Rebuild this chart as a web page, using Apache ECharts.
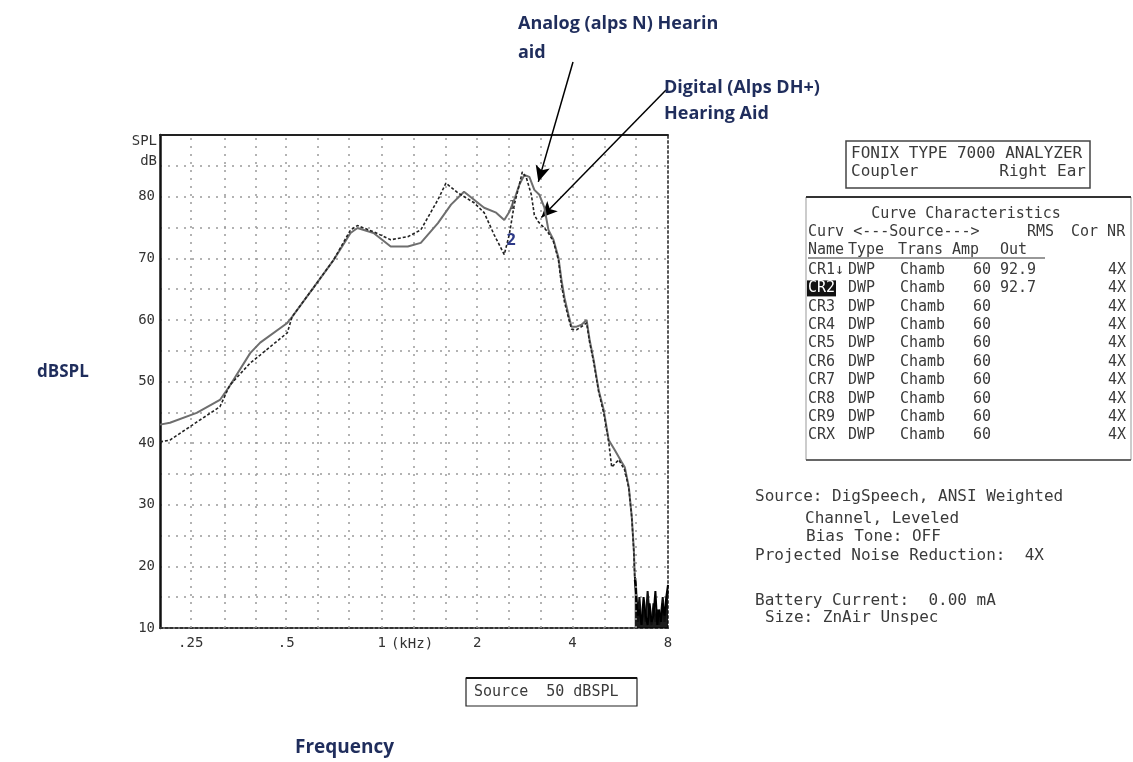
<!DOCTYPE html>
<html><head><meta charset="utf-8">
<script src="https://cdn.jsdelivr.net/npm/echarts@6/dist/echarts.min.js"></script>
<style>html,body{margin:0;padding:0;background:#fff}#c{width:1133px;height:762px}</style>
</head><body><div id="c"></div>
<script>
// ---- data (frequency in kHz, level in dB SPL) ----
const analogFreq = [0.2,0.215,0.261,0.309,0.332,0.385,0.414,0.504,0.522,0.609,0.705,0.798,0.839,0.943,1.068,1.209,1.329,1.505,1.655,1.819,1.957,2.105,2.297,2.436,2.526,2.620,2.717,2.818,2.923,3.031,3.144,3.261,3.357,3.482,3.611,3.691,3.773,3.885,3.971,4.118,4.270,4.430,4.527,4.662,4.836,5.015,5.201,5.434,5.719,5.845,6.018,6.151,6.242,6.287];
const analogDb   = [43.0,43.3,44.9,47.0,49.3,54.6,56.3,59.5,60.5,65.2,69.7,74.1,74.9,74.1,71.9,71.9,72.5,75.7,78.7,80.8,79.5,78.2,77.4,76.2,77.5,79.5,81.9,83.5,83.2,81.1,80.3,78.2,74.6,73.0,70.1,66.5,63.6,60.8,58.9,58.9,59.2,60.0,56.8,53.5,48.6,45.4,40.5,38.9,36.9,36.1,32.9,28.0,22.7,18.3];
const digitalFreq = [0.2,0.215,0.261,0.309,0.332,0.385,0.414,0.504,0.522,0.609,0.705,0.798,0.839,0.943,1.068,1.209,1.329,1.505,1.595,1.741,1.957,2.105,2.264,2.436,2.526,2.620,2.717,2.777,2.859,2.966,3.031,3.121,3.261,3.357,3.482,3.611,3.691,3.773,3.885,3.971,4.118,4.270,4.430,4.527,4.662,4.836,5.015,5.201,5.316,5.595,5.845,6.018,6.151,6.242,6.287];
const digitalDb   = [40.2,40.5,43.4,45.9,49.4,53.0,54.3,57.9,60.5,65.2,69.7,74.6,75.3,74.3,73.0,73.5,74.6,79.5,82.2,80.6,79.0,77.4,73.8,70.6,73.8,78.7,81.9,84.0,83.1,80.3,77.0,75.9,74.9,74.1,72.7,69.7,65.7,62.9,60.3,58.5,58.4,58.9,59.5,56.4,53.2,48.3,44.9,40.2,36.1,37.3,35.6,32.7,27.9,22.3,17.8];
const noiseFreq      = [6.33,6.42,6.5,6.6,6.7,6.8,6.9,7.0,7.1,7.2,7.3,7.4,7.5,7.6,7.7,7.8,7.9,8.0];
const analogNoiseDb  = [17.5,11,15,10.5,13,11,16,12,10.5,14,11,13,10.5,12,15,11,14,16];
const digitalNoiseDb = [16,12,13,10.5,15,12,10.5,14,11,12,16,10.5,13,11,14,12,15,17];
const xTickLabels = {'0.25':'.25','0.5':'.5','1':'1','2':'2','4':'4','8':'8'};
const yTickValues = [10,20,30,40,50,60,70,80];
const thirdOctaveLines = [0.25,0.315,0.397,0.5,0.63,0.794,1,1.26,1.587,2,2.52,3.175,4,5.04,6.35];
const tableRows = [
  ['CR1\u2193','DWP','Chamb','60','92.9','4X'],
  ['CR2\u2193','DWP','Chamb','60','92.7','4X'],
  ['CR3','DWP','Chamb','60','','4X'],
  ['CR4','DWP','Chamb','60','','4X'],
  ['CR5','DWP','Chamb','60','','4X'],
  ['CR6','DWP','Chamb','60','','4X'],
  ['CR7','DWP','Chamb','60','','4X'],
  ['CR8','DWP','Chamb','60','','4X'],
  ['CR9','DWP','Chamb','60','','4X'],
  ['CRX','DWP','Chamb','60','','4X']
];
const infoLines = [
  ['Source: DigSpeech, ANSI Weighted', 755, 497],
  ['Channel, Leveled', 805, 519],
  ['Bias Tone: OFF', 806, 537],
  ['Projected Noise Reduction:  4X', 755, 556],
  ['Battery Current:  0.00 mA', 755, 601],
  ['Size: ZnAir Unspec', 765, 618]
];

const zip = (a, b) => a.map((v, i) => [v, b[i]]);
const mono = '"DejaVu Sans Mono","Liberation Mono",monospace';
const navy = '#1f2d5c';
const chart = echarts.init(document.getElementById('c'));

const g = [];
function txt(text, x, y, opt) {
  g.push({type:'text', x:x, y:y, z:50, style:Object.assign({text:text, font:'15px ' + mono, fill:'#3a3a3a', align:'left', verticalAlign:'middle'}, opt || {})});
}
function line(x1,y1,x2,y2,color,w){ g.push({type:'line', z:40, shape:{x1,y1,x2,y2}, style:{stroke:color, lineWidth:w}}); }
function rect(x,y,w,h,color,lw,fill){ g.push({type:'rect', z:40, shape:{x,y,width:w,height:h}, style:{fill:fill||'none', stroke:color, lineWidth:lw}}); }

// annotation texts
const annFont = 'bold 18px "Open Sans"';
txt('Analog (alps N) Hearin', 518, 24, {font:annFont, fill:navy});
txt('aid', 518, 53, {font:annFont, fill:navy});
txt('Digital (Alps DH+)', 664, 88, {font:annFont, fill:navy});
txt('Hearing Aid', 664, 114, {font:annFont, fill:navy});
txt('dBSPL', 37, 372, {font:'bold 17px "Open Sans"', fill:navy});
txt('Frequency', 295, 748, {font:'bold 19px "Open Sans"', fill:navy});
txt('2', 511, 240, {font:'bold 16px "Open Sans"', fill:'#2e3a87', align:'center'});
txt('1', 512, 206, {font:'12px ' + mono, fill:'#555', align:'center'});
// scanned axis captions
txt('SPL', 157, 141, {font:'14px ' + mono, align:'right', fill:'#333'});
txt('dB', 157, 161, {font:'14px ' + mono, align:'right', fill:'#333'});
txt('(kHz)', 412, 644, {font:'14px ' + mono, align:'center', fill:'#333'});

// top analyzer box
rect(846, 141, 244, 47, '#444', 1.5);
txt('FONIX TYPE 7000 ANALYZER', 851, 154, {font:'16px ' + mono});
txt('Coupler', 851, 172, {font:'16px ' + mono});
txt('Right Ear', 1086, 172, {align:'right', font:'16px ' + mono});

// curve table
rect(806, 197, 325, 263, '#999', 1);
line(806, 197, 1131, 197, '#333', 2);
line(806, 460, 1131, 460, '#444', 1.5);
txt('Curve Characteristics', 966, 214, {align:'center'});
txt('Curv <---Source--->', 808, 232);
txt('RMS', 1027, 232);
txt('Cor NR', 1071, 232);
txt('Name', 808, 250); txt('Type', 848, 250); txt('Trans', 898, 250); txt('Amp', 952, 250); txt('Out', 1000, 250);
line(808, 258, 1045, 258, '#333', 1.2);
const colX = [808, 848, 900, 973, 1000];
tableRows.forEach((r, i) => {
  const y = 270 + i * 18.4;
  if (i === 1) rect(807, y - 8, 29, 16, '#000', 0, '#111');
  r.forEach((c, j) => {
    if (j < 5) txt(c, colX[j], y, (i === 1 && j === 0) ? {fill:'#fff'} : {});
  });
  txt(r[5], 1126, y, {align:'right'});
});

// info block
infoLines.forEach(l => txt(l[0], l[1], l[2], {font:'16px ' + mono}));

// source box
rect(466, 678, 171, 28, '#222', 1.2);
line(466, 678, 637, 678, '#111', 2);
txt('Source  50 dBSPL', 474, 692, {font:'15px ' + mono});

const logAxisBase = {type:'log', logBase:2, min:0.2, max:8, splitLine:{show:false}, axisTick:{show:false}};

chart.setOption({
  animation:false,
  backgroundColor:'#fff',
  grid:{left:160, right:465, top:135, bottom:134, containLabel:false},
  xAxis:[
    Object.assign({}, logAxisBase, {
      position:'bottom',
      axisLine:{show:true, lineStyle:{color:'#333', width:2, type:[3,2]}},
      axisLabel:{color:'#333', fontFamily:mono, fontSize:14, margin:8,
        formatter:v => { const k = String(Math.round(v * 100) / 100); return xTickLabels[k] || ''; }}
    }),
    Object.assign({}, logAxisBase, {
      position:'top',
      axisLine:{show:true, lineStyle:{color:'#222', width:2}},
      axisLabel:{show:false}
    })
  ],
  yAxis:[
    {type:'value', min:10, max:90, interval:5, position:'left',
     axisLine:{show:true, lineStyle:{color:'#111', width:2.5}},
     axisTick:{show:false},
     splitLine:{show:true, lineStyle:{color:'#9a9a9a', width:1.5, type:[2,6]}},
     axisLabel:{color:'#333', fontFamily:mono, fontSize:14, margin:5,
       formatter:v => yTickValues.indexOf(v) >= 0 ? String(v) : ''}},
    {type:'value', min:10, max:90, interval:5, position:'right',
     axisLine:{show:true, lineStyle:{color:'#555', width:2, type:[2,3]}},
     axisTick:{show:false}, splitLine:{show:false}, axisLabel:{show:false}}
  ],
  series:[
    {type:'line', name:'grid', data:[], silent:true, z:1,
     markLine:{silent:true, symbol:'none', label:{show:false},
       lineStyle:{color:'#9a9a9a', width:1.5, type:[2,6]},
       data:thirdOctaveLines.map(f => ({xAxis:f}))}},
    {type:'line', name:'Analog (alps N)', showSymbol:false, z:5,
     data:zip(analogFreq, analogDb),
     lineStyle:{color:'#6e6e6e', width:2},
     markLine:{silent:true, symbol:['none','arrow'], symbolSize:[11,16], label:{show:false},
       lineStyle:{color:'#000', width:1.5, type:'solid'},
       data:[
         [{x:573, y:62}, {coord:[3.12, 82.4]}],
         [{x:666, y:90}, {coord:[3.19, 76.6]}]
       ]}},
    {type:'line', name:'Digital (Alps DH+)', showSymbol:false, z:6,
     data:zip(digitalFreq, digitalDb),
     lineStyle:{color:'#222', width:1.6, type:[3,2]}},
    {type:'line', name:'Analog noise', showSymbol:false, z:4,
     data:[[analogFreq[analogFreq.length-1], analogDb[analogDb.length-1]]].concat(zip(noiseFreq, analogNoiseDb)),
     lineStyle:{color:'#111', width:2}, areaStyle:{color:'#111', opacity:0.75}},
    {type:'line', name:'Digital noise', showSymbol:false, z:4,
     data:[[digitalFreq[digitalFreq.length-1], digitalDb[digitalDb.length-1]]].concat(zip(noiseFreq, digitalNoiseDb)),
     lineStyle:{color:'#000', width:2}, areaStyle:{color:'#000', opacity:0.6}}
  ],
  graphic:g
});
</script></body></html>
